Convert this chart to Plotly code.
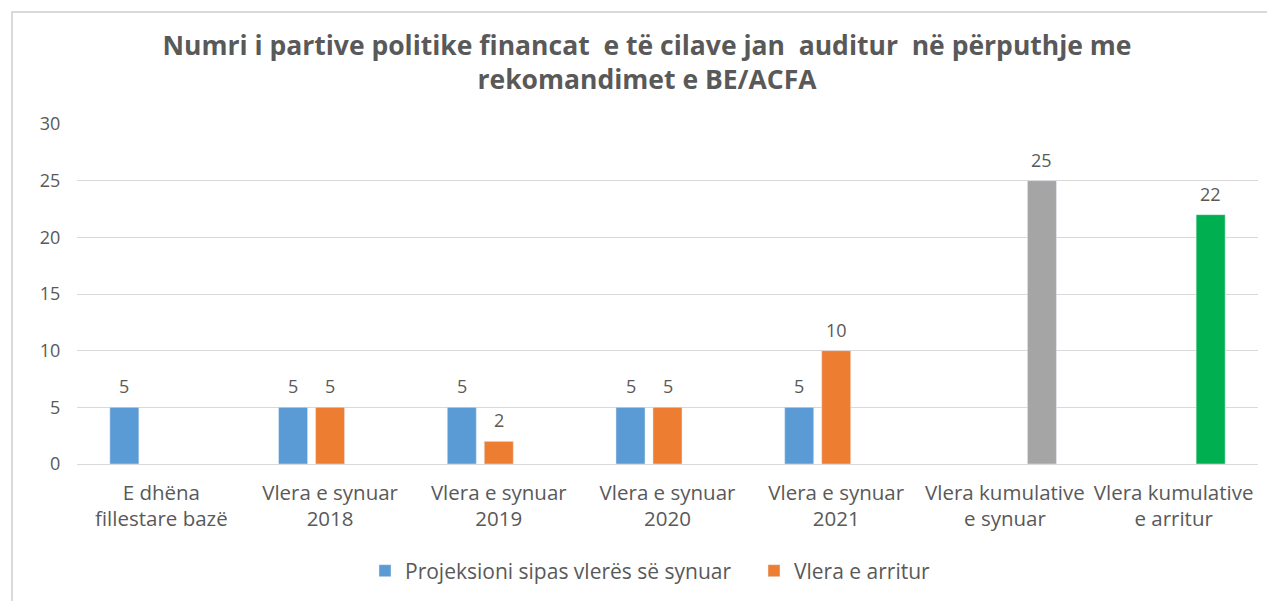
import plotly.graph_objects as go

categories = [
    "E dhëna<br>fillestare bazë",
    "Vlera e synuar<br>2018",
    "Vlera e synuar<br>2019",
    "Vlera e synuar<br>2020",
    "Vlera e synuar<br>2021",
    "Vlera kumulative<br>e synuar",
    "Vlera kumulative<br>e arritur",
]
projeksioni = [5, 5, 5, 5, 5, None, None]
arritur = [None, 5, 2, 5, 10, None, None]
kumulative = [None, None, None, None, None, 25, 22]
kumulative_colors = ["#a5a5a5"] * 5 + ["#a5a5a5", "#00b050"]

title_text = ("Numri i partive politike financat  e të cilave jan  auditur  në përputhje me"
              "<br>rekomandimet e BE/ACFA")

FONT = "Open Sans"
GREY = "#595959"

# page body has an 8px margin; figure coordinates below are page coords - 8
W, H = 1259, 593
L, R, T, B = 69, 1250, 116, 456

fig = go.Figure()
fig.add_trace(go.Bar(x=categories, y=projeksioni, name="Projeksioni sipas vlerës së synuar",
                     marker=dict(color="#5b9bd5")))
fig.add_trace(go.Bar(x=categories, y=arritur, name="Vlera e arritur",
                     marker=dict(color="#ed7d31")))
fig.add_trace(go.Bar(x=categories, y=kumulative, name="Kumulative", showlegend=False,
                     marker=dict(color=kumulative_colors)))

# data labels
for series, shift in ((projeksioni, -37), (arritur, 0), (kumulative, 37)):
    for c, v in zip(categories, series):
        if v is None:
            continue
        fig.add_annotation(x=c, y=v, text=str(v), showarrow=False, xshift=shift, yshift=7,
                           yanchor="bottom", font=dict(family=FONT, size=18, color=GREY))

fig.update_layout(
    width=W, height=H,
    margin=dict(l=L, r=W - R, t=T, b=H - B),
    paper_bgcolor="white", plot_bgcolor="white",
    title=dict(text=title_text, x=639 / W, xanchor="center", y=1 - 47 / H, yanchor="middle",
               font=dict(family=FONT, size=26.5, color=GREY, weight="bold")),
    barmode="group", bargap=0.342, bargroupgap=0.216,
    legend=dict(orientation="h", x=357 / W, xanchor="left", xref="container",
                y=1 - 563 / H, yref="container", yanchor="middle",
                font=dict(family=FONT, size=21, color=GREY), traceorder="normal",
                itemwidth=30, entrywidth=344),
    font=dict(family=FONT, color=GREY),
)
fig.update_yaxes(range=[0, 30], dtick=5, showgrid=True, gridcolor="#d9d9d9", gridwidth=1,
                 zeroline=False, showline=False, ticks="outside", ticklen=12,
                 tickcolor="rgba(0,0,0,0)", tickfont=dict(family=FONT, size=18, color=GREY))
fig.update_xaxes(showline=True, linecolor="#d9d9d9", linewidth=1, ticks="outside", ticklen=10,
                 tickcolor="rgba(0,0,0,0)", tickfont=dict(family=FONT, size=20.5, color=GREY))

# chart border (left and top visible)
fig.add_shape(type="rect", xref="paper", yref="paper",
              x0=(4 - L) / (R - L), x1=1.2, y0=-0.7, y1=(B - 4) / (B - T),
              line=dict(color="#d9d9d9", width=2), layer="below")

fig.write_html("out.html")
